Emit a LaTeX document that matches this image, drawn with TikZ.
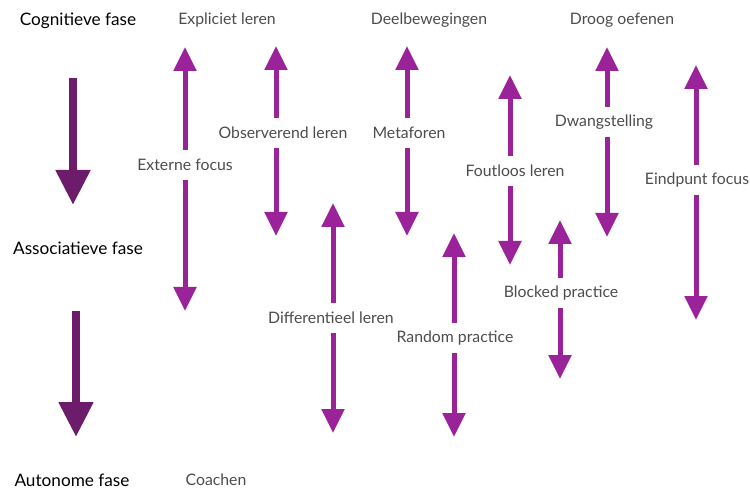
\documentclass[tikz,border=0pt]{standalone}
\usepackage{fontspec}
\setmainfont{Lato}
\usetikzlibrary{arrows.meta}
\definecolor{mag}{HTML}{9B2399}
\definecolor{darkmag}{HTML}{6D1B6B}
\definecolor{txtgray}{HTML}{4C4C4C}
\tikzset{
  phase/.style={font=\fontsize{17.2}{20}\selectfont, text=black, inner sep=0pt},
  lbl/.style={font=\fontsize{15.8}{18}\selectfont, text=txtgray, inner xsep=0pt, minimum height=30pt},
  toplbl/.style={font=\fontsize{15.8}{18}\selectfont, text=txtgray, inner sep=0pt},
  magarrow/.style={draw=mag, line width=5pt, -{Triangle[width=22pt,length=24pt]}, fill=mag},
  phasearrow/.style={draw=darkmag, line width=8pt, -{Triangle[width=33pt,length=35pt]}, fill=darkmag},
}
\begin{document}
\begin{tikzpicture}[x=1pt,y=-1pt]
\useasboundingbox (0,0) rectangle (750,489);
% phase labels
\node[phase] (cog) at (78,20.5) {Cognitieve fase};
\node[phase] (ass) at (78,248.5) {Associatieve fase};
\node[phase] (aut) at (72,480) {Autonome fase};
% phase arrows
\coordinate (p1s) at (73,78);
\coordinate (p1e) at (73,205);
\coordinate (p2s) at (76,311);
\coordinate (p2e) at (76,437);
\draw[phasearrow] (p1s) -- (p1e);
\draw[phasearrow] (p2s) -- (p2e);
% top labels
\node[toplbl] (expl) at (227,20.5) {Expliciet leren};
\node[toplbl] (deel) at (429,20.5) {Deelbewegingen};
\node[toplbl] (droog) at (622,20.5) {Droog oefenen};
\node[toplbl] (coach) at (216,480) {Coachen};
% split labels
\node[lbl] (ext) at (185,165) {Externe focus};
\node[lbl] (obs) at (283,133) {Observerend leren};
\node[lbl] (met) at (409,133) {Metaforen};
\node[lbl] (fout) at (515,171) {Foutloos leren};
\node[lbl] (dwang) at (604,122) {Dwangstelling};
\node[lbl] (eind) at (697,180) {Eindpunt focus};
\node[lbl] (diff) at (331,318) {Differentieel leren};
\node[lbl] (rand) at (455,338) {Random practice};
\node[lbl] (block) at (561,293) {Blocked practice};
% arrow ends
\coordinate (ext-t) at (185,47);   \coordinate (ext-b) at (185,311);
\coordinate (obs-t) at (276,46);   \coordinate (obs-b) at (276,236);
\coordinate (met-t) at (407,46);   \coordinate (met-b) at (407,236);
\coordinate (fout-t) at (510,75);  \coordinate (fout-b) at (510,265);
\coordinate (dwang-t) at (607,47); \coordinate (dwang-b) at (607,237);
\coordinate (eind-t) at (696,65);  \coordinate (eind-b) at (696,320);
\coordinate (diff-t) at (333,203); \coordinate (diff-b) at (333,433);
\coordinate (rand-t) at (454,233); \coordinate (rand-b) at (454,437);
\coordinate (block-t) at (560,220);\coordinate (block-b) at (560,379);
\foreach \n in {ext,obs,met,fout,dwang,eind,diff,rand,block}{
  \draw[magarrow] (\n.north -| \n-t) -- (\n-t);
  \draw[magarrow] (\n.south -| \n-b) -- (\n-b);
}
\end{tikzpicture}
\end{document}
